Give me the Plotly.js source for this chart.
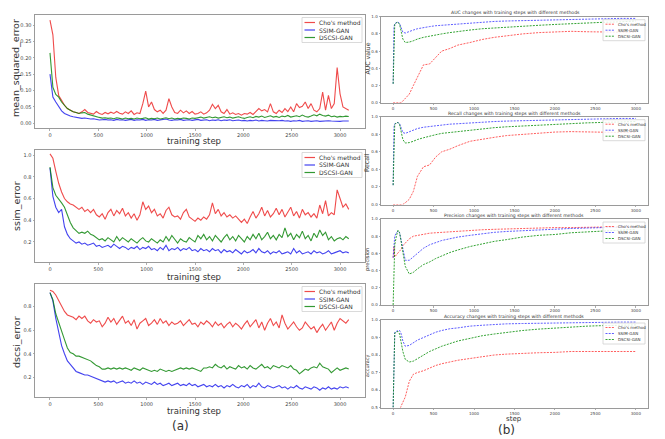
<!DOCTYPE html>
<html>
<head>
<meta charset="utf-8">
<script src="https://cdn.plot.ly/plotly-3.0.1.min.js"></script>
<style>
  html, body { margin: 0; padding: 0; background: #fff; }
  #chart { width: 665px; height: 439px; }
</style>
</head>
<body>
<div id="chart"></div>
<script>
// ---- data ----
var methods = ["Cho's method", 'SSIM-GAN', 'DSCSI-GAN'];

var steps = [0,30,60,90,120,150,180,210,240,270,300,330,360,390,420,450,480,510,540,570,
  600,630,660,690,720,750,780,810,840,870,900,930,960,990,1020,1050,1080,1110,1140,1170,
  1200,1230,1260,1290,1320,1350,1380,1410,1440,1470,1500,1530,1560,1590,1620,1650,1680,1710,1740,1770,
  1800,1830,1860,1890,1920,1950,1980,2010,2040,2070,2100,2130,2160,2190,2220,2250,2280,2310,2340,2370,
  2400,2430,2460,2490,2520,2550,2580,2610,2640,2670,2700,2730,2760,2790,2820,2850,2880,2910,2940,2970,
  3000,3030,3060,3090];

var mseCho = [0.315,0.27,0.14,0.085,0.07,0.055,0.045,0.04,0.035,0.033,
  0.03,0.035,0.042,0.033,0.03,0.028,0.036,0.03,0.027,0.033,
  0.029,0.034,0.03,0.036,0.031,0.028,0.035,0.03,0.038,0.027,
  0.032,0.03,0.06,0.098,0.05,0.065,0.042,0.035,0.04,0.03,
  0.04,0.075,0.05,0.033,0.03,0.04,0.032,0.038,0.03,0.036,
  0.028,0.03,0.035,0.028,0.032,0.04,0.058,0.045,0.055,0.035,
  0.03,0.042,0.028,0.032,0.027,0.03,0.025,0.03,0.028,0.033,
  0.027,0.035,0.045,0.038,0.042,0.035,0.06,0.035,0.03,0.04,
  0.033,0.045,0.036,0.05,0.035,0.06,0.048,0.052,0.065,0.045,
  0.06,0.04,0.035,0.045,0.095,0.04,0.085,0.045,0.06,0.17,
  0.09,0.05,0.045,0.04];
var mseSsim = [0.15,0.08,0.065,0.05,0.038,0.03,0.025,0.022,0.02,0.018,
  0.017,0.015,0.016,0.014,0.013,0.014,0.012,0.01,0.011,0.012,
  0.01,0.011,0.009,0.012,0.01,0.011,0.009,0.01,0.012,0.009,
  0.011,0.01,0.012,0.009,0.011,0.01,0.012,0.009,0.01,0.011,
  0.013,0.01,0.009,0.011,0.01,0.012,0.009,0.01,0.011,0.009,
  0.01,0.012,0.009,0.01,0.011,0.008,0.01,0.009,0.011,0.008,
  0.01,0.009,0.011,0.008,0.009,0.01,0.008,0.009,0.007,0.009,
  0.008,0.01,0.007,0.009,0.008,0.007,0.009,0.008,0.007,0.008,
  0.009,0.007,0.008,0.006,0.008,0.007,0.009,0.006,0.007,0.008,
  0.006,0.007,0.008,0.006,0.007,0.006,0.008,0.007,0.006,0.007,
  0.006,0.007,0.006,0.007];
var mseDscsi = [0.215,0.11,0.088,0.08,0.065,0.055,0.045,0.04,0.035,0.033,
  0.03,0.032,0.033,0.028,0.025,0.022,0.02,0.018,0.016,0.017,
  0.015,0.016,0.014,0.017,0.015,0.013,0.016,0.014,0.015,0.013,
  0.016,0.014,0.015,0.017,0.013,0.015,0.014,0.016,0.013,0.015,
  0.017,0.014,0.016,0.013,0.015,0.014,0.016,0.015,0.013,0.016,
  0.015,0.017,0.019,0.016,0.018,0.02,0.017,0.019,0.016,0.018,
  0.02,0.017,0.019,0.016,0.018,0.02,0.017,0.015,0.018,0.02,
  0.017,0.021,0.019,0.022,0.018,0.02,0.023,0.019,0.021,0.018,
  0.022,0.02,0.024,0.019,0.021,0.023,0.02,0.025,0.021,0.019,
  0.022,0.026,0.023,0.028,0.024,0.022,0.025,0.02,0.022,0.019,
  0.021,0.02,0.022,0.021];

var ssimCho = [1.01,0.97,0.85,0.74,0.66,0.6,0.57,0.55,0.54,0.52,
  0.5,0.52,0.48,0.5,0.47,0.5,0.45,0.43,0.46,0.41,
  0.47,0.5,0.44,0.49,0.46,0.51,0.44,0.47,0.42,0.46,
  0.4,0.45,0.57,0.5,0.53,0.47,0.5,0.44,0.46,0.42,
  0.49,0.52,0.45,0.43,0.44,0.41,0.47,0.5,0.43,0.41,
  0.39,0.42,0.4,0.43,0.41,0.45,0.56,0.46,0.5,0.44,
  0.47,0.43,0.45,0.42,0.44,0.41,0.38,0.41,0.37,0.43,
  0.48,0.42,0.46,0.52,0.44,0.49,0.43,0.46,0.51,0.45,
  0.5,0.43,0.47,0.52,0.44,0.48,0.42,0.5,0.45,0.47,
  0.43,0.46,0.42,0.54,0.46,0.58,0.44,0.47,0.45,0.68,
  0.6,0.52,0.55,0.5];
var ssimSsim = [0.88,0.62,0.52,0.47,0.5,0.34,0.27,0.23,0.21,0.19,
  0.2,0.18,0.19,0.17,0.18,0.19,0.16,0.17,0.15,0.16,
  0.17,0.15,0.18,0.16,0.14,0.16,0.15,0.13,0.15,0.14,
  0.16,0.13,0.15,0.14,0.16,0.13,0.14,0.12,0.15,0.13,
  0.17,0.12,0.14,0.13,0.15,0.12,0.14,0.13,0.15,0.12,
  0.13,0.11,0.14,0.12,0.13,0.11,0.14,0.12,0.13,0.1,
  0.13,0.11,0.12,0.1,0.13,0.11,0.09,0.12,0.1,0.11,
  0.13,0.1,0.14,0.11,0.1,0.12,0.09,0.11,0.1,0.12,
  0.09,0.1,0.11,0.09,0.14,0.1,0.12,0.09,0.1,0.11,
  0.09,0.12,0.1,0.11,0.09,0.1,0.12,0.09,0.1,0.11,
  0.12,0.1,0.11,0.1];
var ssimDscsi = [0.89,0.7,0.63,0.6,0.56,0.52,0.45,0.38,0.33,0.3,
  0.28,0.29,0.28,0.3,0.27,0.26,0.24,0.22,0.23,0.21,
  0.24,0.22,0.2,0.25,0.21,0.24,0.22,0.2,0.23,0.21,
  0.19,0.22,0.24,0.21,0.2,0.23,0.21,0.19,0.22,0.2,
  0.25,0.21,0.26,0.22,0.19,0.23,0.21,0.2,0.24,0.22,
  0.2,0.26,0.23,0.27,0.22,0.25,0.21,0.26,0.23,0.2,
  0.24,0.27,0.22,0.25,0.21,0.26,0.23,0.2,0.25,0.22,
  0.27,0.23,0.28,0.22,0.25,0.29,0.23,0.26,0.22,0.27,
  0.24,0.33,0.25,0.28,0.22,0.27,0.24,0.3,0.23,0.26,
  0.21,0.28,0.24,0.31,0.26,0.29,0.22,0.25,0.21,0.23,
  0.24,0.22,0.25,0.23];

var dscsiCho = [0.94,0.93,0.9,0.85,0.8,0.76,0.73,0.72,0.71,0.69,
  0.72,0.7,0.72,0.68,0.66,0.69,0.67,0.68,0.63,0.66,
  0.71,0.67,0.7,0.65,0.69,0.72,0.66,0.68,0.64,0.69,
  0.61,0.66,0.68,0.7,0.64,0.66,0.69,0.65,0.7,0.66,
  0.68,0.64,0.67,0.65,0.66,0.68,0.64,0.67,0.69,0.65,
  0.66,0.63,0.67,0.65,0.68,0.66,0.63,0.67,0.64,0.66,
  0.62,0.65,0.67,0.63,0.66,0.64,0.61,0.65,0.68,0.63,
  0.66,0.69,0.62,0.67,0.6,0.66,0.7,0.64,0.67,0.62,
  0.73,0.66,0.61,0.64,0.67,0.63,0.6,0.62,0.67,0.64,
  0.61,0.63,0.58,0.62,0.65,0.6,0.64,0.67,0.6,0.66,
  0.7,0.68,0.66,0.69];
var dscsiSsim = [0.92,0.85,0.7,0.57,0.47,0.4,0.34,0.31,0.28,0.25,
  0.24,0.23,0.22,0.22,0.21,0.2,0.19,0.18,0.17,0.16,
  0.17,0.16,0.17,0.15,0.16,0.17,0.15,0.16,0.15,0.17,
  0.15,0.16,0.14,0.16,0.15,0.14,0.16,0.14,0.15,0.13,
  0.14,0.15,0.13,0.14,0.15,0.13,0.14,0.13,0.15,0.13,
  0.14,0.12,0.13,0.14,0.12,0.13,0.12,0.14,0.12,0.13,
  0.11,0.13,0.12,0.14,0.12,0.11,0.13,0.12,0.14,0.11,
  0.13,0.12,0.15,0.12,0.11,0.13,0.12,0.11,0.12,0.13,
  0.11,0.12,0.1,0.12,0.11,0.13,0.11,0.1,0.12,0.11,
  0.1,0.12,0.11,0.09,0.11,0.1,0.12,0.1,0.11,0.1,
  0.12,0.11,0.12,0.11];
var dscsiDscsi = [0.92,0.86,0.74,0.66,0.6,0.52,0.45,0.41,0.4,0.38,
  0.38,0.37,0.36,0.35,0.34,0.32,0.3,0.29,0.27,0.27,
  0.28,0.27,0.28,0.27,0.28,0.27,0.28,0.27,0.26,0.28,
  0.27,0.26,0.28,0.27,0.26,0.25,0.26,0.25,0.27,0.26,
  0.25,0.26,0.25,0.26,0.27,0.28,0.27,0.28,0.27,0.28,
  0.27,0.26,0.25,0.28,0.28,0.29,0.28,0.31,0.29,0.28,
  0.3,0.27,0.29,0.28,0.27,0.3,0.28,0.29,0.27,0.3,
  0.28,0.27,0.29,0.31,0.28,0.29,0.27,0.3,0.29,0.28,
  0.3,0.29,0.28,0.3,0.27,0.26,0.23,0.25,0.27,0.26,
  0.28,0.29,0.28,0.32,0.29,0.28,0.27,0.24,0.26,0.28,
  0.26,0.27,0.28,0.27];

// right column (b): evaluation metrics
var evalSteps = [0,10,20,40,60,80,100,120,150,200,250,300,375,450,525,600,700,800,950,1100,
  1250,1400,1600,1800,2000,2200,2400,2600,2800,3000];

var aucCho = [0,0,0,0,0,0,0,0.02,0.05,0.1,0.2,0.3,0.44,0.45,0.52,0.6,0.63,0.67,0.7,0.735,
  0.76,0.78,0.8,0.815,0.82,0.83,0.825,0.82,0.82,0.82];
var aucSsim = [0.22,0.88,0.92,0.935,0.94,0.92,0.86,0.82,0.81,0.83,0.845,0.86,0.875,0.885,0.895,0.9,0.91,0.92,0.93,0.94,
  0.945,0.95,0.955,0.96,0.965,0.97,0.975,0.975,0.98,0.98];
var aucDscsi = [0.22,0.86,0.91,0.93,0.935,0.91,0.82,0.74,0.7,0.705,0.72,0.74,0.76,0.775,0.79,0.8,0.815,0.83,0.845,0.86,
  0.87,0.88,0.89,0.9,0.91,0.92,0.93,0.935,0.94,0.95];

var recallCho = [0,0,0,0,0,0,0,0,0.02,0.06,0.15,0.32,0.43,0.45,0.54,0.6,0.63,0.67,0.72,0.745,
  0.765,0.785,0.8,0.815,0.825,0.83,0.825,0.82,0.82,0.82];
var recallSsim = [0.22,0.88,0.92,0.93,0.935,0.92,0.86,0.82,0.81,0.83,0.85,0.865,0.88,0.89,0.9,0.905,0.915,0.92,0.93,0.94,
  0.945,0.95,0.955,0.96,0.965,0.97,0.975,0.975,0.98,0.98];
var recallDscsi = [0.22,0.86,0.91,0.93,0.935,0.91,0.82,0.74,0.7,0.705,0.72,0.74,0.76,0.78,0.795,0.81,0.82,0.835,0.85,0.865,
  0.875,0.885,0.895,0.905,0.915,0.925,0.93,0.935,0.94,0.945];

var precCho = [0.55,0.68,0.56,0.58,0.6,0.63,0.65,0.69,0.72,0.77,0.8,0.81,0.825,0.835,0.84,0.845,0.855,0.86,0.87,0.875,
  0.88,0.885,0.89,0.895,0.9,0.9,0.905,0.905,0.91,0.91];
var precSsim = [0.55,0.7,0.8,0.84,0.86,0.84,0.75,0.62,0.52,0.52,0.56,0.61,0.66,0.7,0.725,0.75,0.77,0.79,0.81,0.83,
  0.845,0.855,0.865,0.875,0.885,0.89,0.895,0.9,0.905,0.91];
var precDscsi = [0,0.5,0.7,0.8,0.87,0.84,0.72,0.6,0.45,0.36,0.38,0.42,0.47,0.5,0.54,0.57,0.61,0.64,0.68,0.71,
  0.74,0.76,0.79,0.81,0.82,0.84,0.85,0.86,0.87,0.88];

var accCho = [0.3,0.35,0.38,0.42,0.46,0.49,0.51,0.53,0.56,0.65,0.69,0.7,0.71,0.725,0.74,0.75,0.76,0.77,0.78,0.79,
  0.8,0.805,0.81,0.813,0.815,0.82,0.82,0.822,0.82,0.82];
var accSsim = [0.5,0.9,0.93,0.935,0.94,0.94,0.92,0.88,0.85,0.855,0.87,0.885,0.9,0.915,0.93,0.94,0.95,0.955,0.965,0.97,
  0.975,0.978,0.98,0.982,0.984,0.985,0.986,0.987,0.988,0.988];
var accDscsi = [0.5,0.9,0.925,0.93,0.935,0.92,0.87,0.82,0.775,0.76,0.765,0.78,0.8,0.82,0.835,0.85,0.865,0.88,0.895,0.91,
  0.92,0.93,0.94,0.948,0.955,0.96,0.965,0.968,0.97,0.972];

var xTicks = [0,500,1000,1500,2000,2500,3000];

// ---- layout helpers (pixel -> paper) ----
var W = 665, H = 439;
function px(p) { return p / W; }
function py(p) { return 1 - p / H; }
function xdom(a, b) { return [a / W, b / W]; }
function ydom(top, bottom) { return [1 - bottom / H, 1 - top / H]; }

var solidColors = ['rgba(235,30,30,0.8)', 'rgba(20,20,235,0.8)', 'rgba(0,128,0,0.8)'];
var dashColors = ['rgba(255,40,40,0.75)', 'rgba(40,40,255,0.75)', 'rgba(0,140,0,0.8)'];
var FONT = 'DejaVu Sans, sans-serif';

function ax(extra, small) {
  var o = {
    showline: true, mirror: true, linecolor: '#9a9a9a', linewidth: 1,
    ticks: 'outside', ticklen: 1.5, tickcolor: '#9a9a9a', tickwidth: 0.8,
    showgrid: false, zeroline: false, fixedrange: true,
    tickfont: {family: FONT, size: small ? 4 : 5, color: '#444'}
  };
  for (var k in extra) o[k] = extra[k];
  return o;
}

var panels = [
  // left column
  {x: steps, ys: [mseCho, mseSsim, mseDscsi], top: 15, bottom: 128, left: true,
   yr: [-0.0143, 0.3305], yt: [0, 0.05, 0.1, 0.15, 0.2, 0.25, 0.3], fmt: '.2f'},
  {x: steps, ys: [ssimCho, ssimSsim, ssimDscsi], top: 150, bottom: 262, left: true,
   yr: [0.016, 1.046], yt: [0.2, 0.4, 0.6, 0.8, 1.0], fmt: '.1f'},
  {x: steps, ys: [dscsiCho, dscsiSsim, dscsiDscsi], top: 284, bottom: 397, left: true,
   yr: [0.033, 0.993], yt: [0.2, 0.4, 0.6, 0.8], fmt: '.1f'},
  // right column
  {x: evalSteps, ys: [aucCho, aucSsim, aucDscsi], top: 16.7, bottom: 102.7, left: false,
   yr: [0, 1], yt: [0, 0.2, 0.4, 0.6, 0.8, 1.0], fmt: '.1f'},
  {x: evalSteps, ys: [recallCho, recallSsim, recallDscsi], top: 116.7, bottom: 204.5, left: false,
   yr: [0, 1], yt: [0, 0.2, 0.4, 0.6, 0.8, 1.0], fmt: '.1f'},
  {x: evalSteps, ys: [precCho, precSsim, precDscsi], top: 219, bottom: 305, left: false,
   yr: [0, 1], yt: [0, 0.2, 0.4, 0.6, 0.8, 1.0], fmt: '.1f'},
  {x: evalSteps, ys: [accCho, accSsim, accDscsi], top: 320, bottom: 407.5, left: false,
   yr: [0.5, 1], yt: [0.5, 0.6, 0.7, 0.8, 0.9, 1.0], fmt: '.1f'}
];

var data = [];
var layout = {
  width: W, height: H,
  margin: {l: 0, r: 0, t: 0, b: 0},
  paper_bgcolor: '#fff', plot_bgcolor: '#fff',
  showlegend: false,
  font: {family: FONT},
  shapes: [], annotations: []
};

function text(str, x, y, size, opts) {
  var a = {text: str, x: px(x), y: py(y), xref: 'paper', yref: 'paper',
    showarrow: false, xanchor: 'center', yanchor: 'middle', borderpad: 0,
    font: {family: FONT, size: size, color: '#333'}};
  for (var k in (opts || {})) a[k] = opts[k];
  layout.annotations.push(a);
}

// hand-drawn legend box, matplotlib style
function legendBox(left, right, top, rowGap, firstRow, fs, dashed) {
  var h = firstRow * 2 + rowGap * 2;
  layout.shapes.push({type: 'rect', xref: 'paper', yref: 'paper',
    x0: px(left), x1: px(right), y0: py(top), y1: py(top + h),
    fillcolor: 'rgba(255,255,255,0.85)', line: {color: '#d0d0d0', width: 0.8}});
  for (var i = 0; i < 3; i++) {
    var yy = top + firstRow + i * rowGap;
    layout.shapes.push({type: 'line', xref: 'paper', yref: 'paper',
      x0: px(left + 2.5), x1: px(left + (dashed ? 12 : 13)), y0: py(yy), y1: py(yy),
      line: {color: dashed ? dashColors[i] : solidColors[i], width: dashed ? 1 : 1.2,
             dash: dashed ? '2px,1.2px' : 'solid'}});
    text(methods[i], left + (dashed ? 14 : 16), yy, fs, {xanchor: 'left'});
  }
}

panels.forEach(function (p, k) {
  var n = k + 1;
  var xa = 'xaxis' + (n === 1 ? '' : n), ya = 'yaxis' + (n === 1 ? '' : n);
  var xr = p.left ? [-155, 3258] : [-150, 3150];
  var dx = p.left ? xdom(35, 365) : xdom(381, 648);
  layout[xa] = ax({domain: dx, range: xr, tickvals: xTicks, anchor: 'y' + (n === 1 ? '' : n)}, !p.left);
  layout[ya] = ax({domain: ydom(p.top, p.bottom), range: p.yr, tickvals: p.yt, tickformat: p.fmt,
    anchor: 'x' + (n === 1 ? '' : n)}, !p.left);
  p.ys.forEach(function (ys, i) {
    data.push({
      type: 'scatter', mode: 'lines', x: p.x, y: ys, name: methods[i],
      xaxis: 'x' + (n === 1 ? '' : n), yaxis: 'y' + (n === 1 ? '' : n),
      line: p.left ? {color: solidColors[i], width: 1.1}
                   : {color: dashColors[i], width: 1, dash: '2px,1.2px'},
      hoverinfo: 'skip'
    });
  });
  if (p.left) legendBox(302, 362, p.top + 2.5, 7.5, 5, 6, false);
  else legendBox(603, 645, p.top + 3, 6, 4.5, 4, true);
});

// axis titles and captions (a)
text('mean_squared_error', 15, 68, 9.5, {textangle: -90});
text('ssim_error', 16, 206, 9.5, {textangle: -90});
text('dscsi_error', 16, 342, 9.5, {textangle: -90});
text('training step', 194, 141.5, 8.5);
text('training step', 194, 277, 8.5);
text('training step', 194, 411, 8.5);
text('(a)', 180, 426, 12);

// right column titles (b)
text('AUC changes with training steps with different methods', 515, 12.5, 4.6);
text('Recall changes with training steps with different methods', 514, 113, 4.6);
text('Precision changes with training steps with different methods', 514, 215, 4.6);
text('Accuracy changes with training steps with different methods', 514, 316, 4.6);
text('AUC value', 367, 58.5, 6.2, {textangle: -90});
text('Recall', 367, 163, 6.2, {textangle: -90});
text('precision', 367, 260, 5.2, {textangle: -90});
text('accuracy', 367, 366, 5, {textangle: -90});
text('step', 514, 419, 7);
text('(b)', 506, 430, 12);

Plotly.newPlot('chart', data, layout, {displayModeBar: false, staticPlot: true});
</script>
</body>
</html>
